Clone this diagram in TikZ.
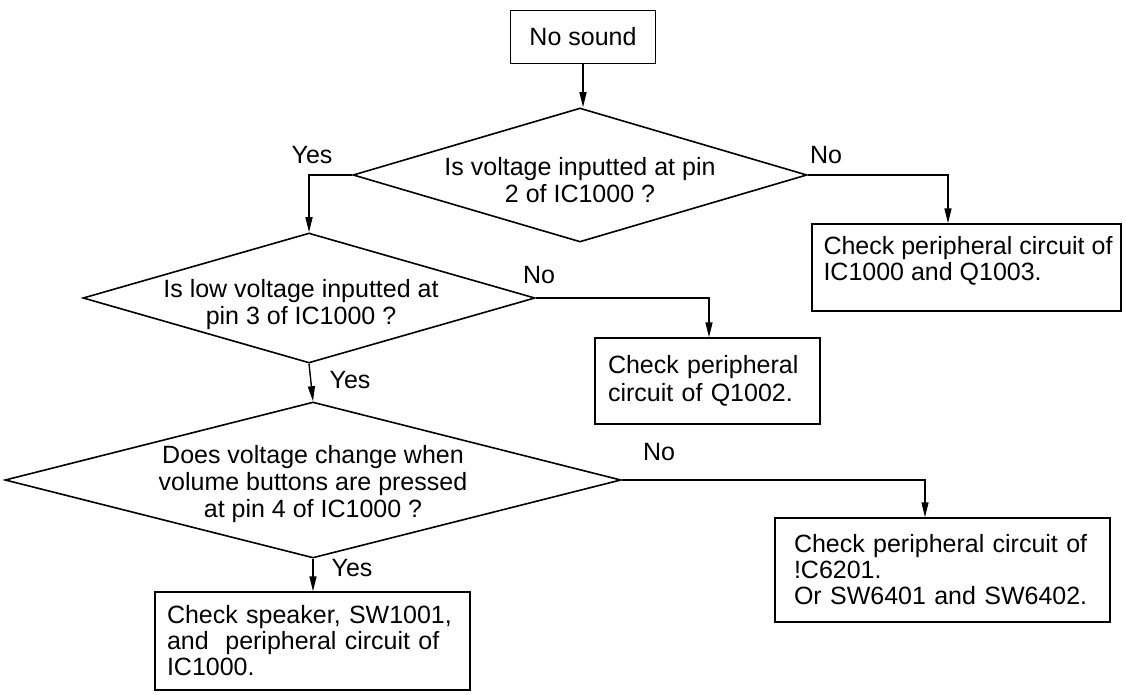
\documentclass[tikz,border=0pt]{standalone}
\usepackage{fontspec}
\setmainfont{Liberation Sans}
\usetikzlibrary{arrows.meta,shapes.geometric}
\begin{document}
\begin{tikzpicture}[x=1pt,y=-1pt,
  every node/.style={font=\fontsize{25}{26}\selectfont},
  box/.style={draw,line width=1.4pt,inner sep=0pt,align=left},
  dec/.style={draw,diamond,line width=1.6pt,inner sep=0pt},
  dtext/.style={align=center,inner sep=0pt,font=\fontsize{25}{27}\selectfont},
  arr/.style={line width=1.4pt,-{Triangle[length=15pt,width=7pt]}},
  lbl/.style={inner sep=0pt}]
\useasboundingbox (0,0) rectangle (1126,695);
% start
\node[box,minimum width=145,minimum height=53,align=center] (start) at (583,37) {No sound};
% decision 1
\node[dec,minimum width=454,minimum height=134] (d1) at (580,175) {};
\node[dtext] (t1) at ([yshift=-5pt]d1.center) {Is voltage inputted at pin\\2 of IC1000 ?};
% result 1
\node[box,minimum width=309,minimum height=87] (b1) at (966.5,267.5) {};
\node[lbl,align=left,anchor=north west,font=\fontsize{25}{25.5}\selectfont] (b1t)
  at ([xshift=12pt,yshift=-13pt]b1.north west) {Check peripheral circuit of\\IC1000 and Q1003.};
% decision 2
\node[dec,minimum width=452,minimum height=130] (d2) at (309,298) {};
\node[dtext] (t2) at ([xshift=-8pt,yshift=-7pt]d2.center) {Is low voltage inputted at\\pin 3 of IC1000 ?};
% result 2
\node[box,minimum width=225,minimum height=86,text width=199,font=\fontsize{25}{28}\selectfont] (b2) at (707.5,381)
  {Check peripheral\\circuit of Q1002.};
% decision 3
\node[dec,minimum width=616,minimum height=156] (d3) at (313,480) {};
\node[dtext] (t3) at ([yshift=-4pt]d3.center) {Does voltage change when\\volume buttons are pressed\\at pin 4 of IC1000 ?};
% result 3
\node[box,minimum width=335,minimum height=104,text width=297] (b3) at (942.5,570)
  {Check peripheral circuit of\\!C6201.\\Or SW6401 and SW6402.};
% result 4
\node[box,minimum width=315,minimum height=98,text width=291] (b4) at (312.5,641)
  {Check speaker, SW1001,\\and\ \ peripheral circuit of\\IC1000.};
% connectors
\draw[arr] (start.south) -- (start.south |- d1.north);
\draw[arr] (d1.west) -| (d2.north);
\draw[arr] (d1.east) -| ([xshift=-18.5pt]b1.north);
\draw[arr] (d2.east) -| ([xshift=1.5pt]b2.north);
\draw[arr] (d2.south) -- (d3.north);
\draw[arr] (d3.east) -| ([xshift=-17.5pt]b3.north);
\draw[arr] (d3.south) -- (d3.south |- b4.north);
% labels
\node[lbl] (y1) at (312,155) {Yes};
\node[lbl] (n1) at (826,155) {No};
\node[lbl] (n2) at (539,275) {No};
\node[lbl] (y2) at (350,380) {Yes};
\node[lbl] (n3) at (659,452) {No};
\node[lbl] (y3) at (352,568) {Yes};
\end{tikzpicture}
\end{document}
